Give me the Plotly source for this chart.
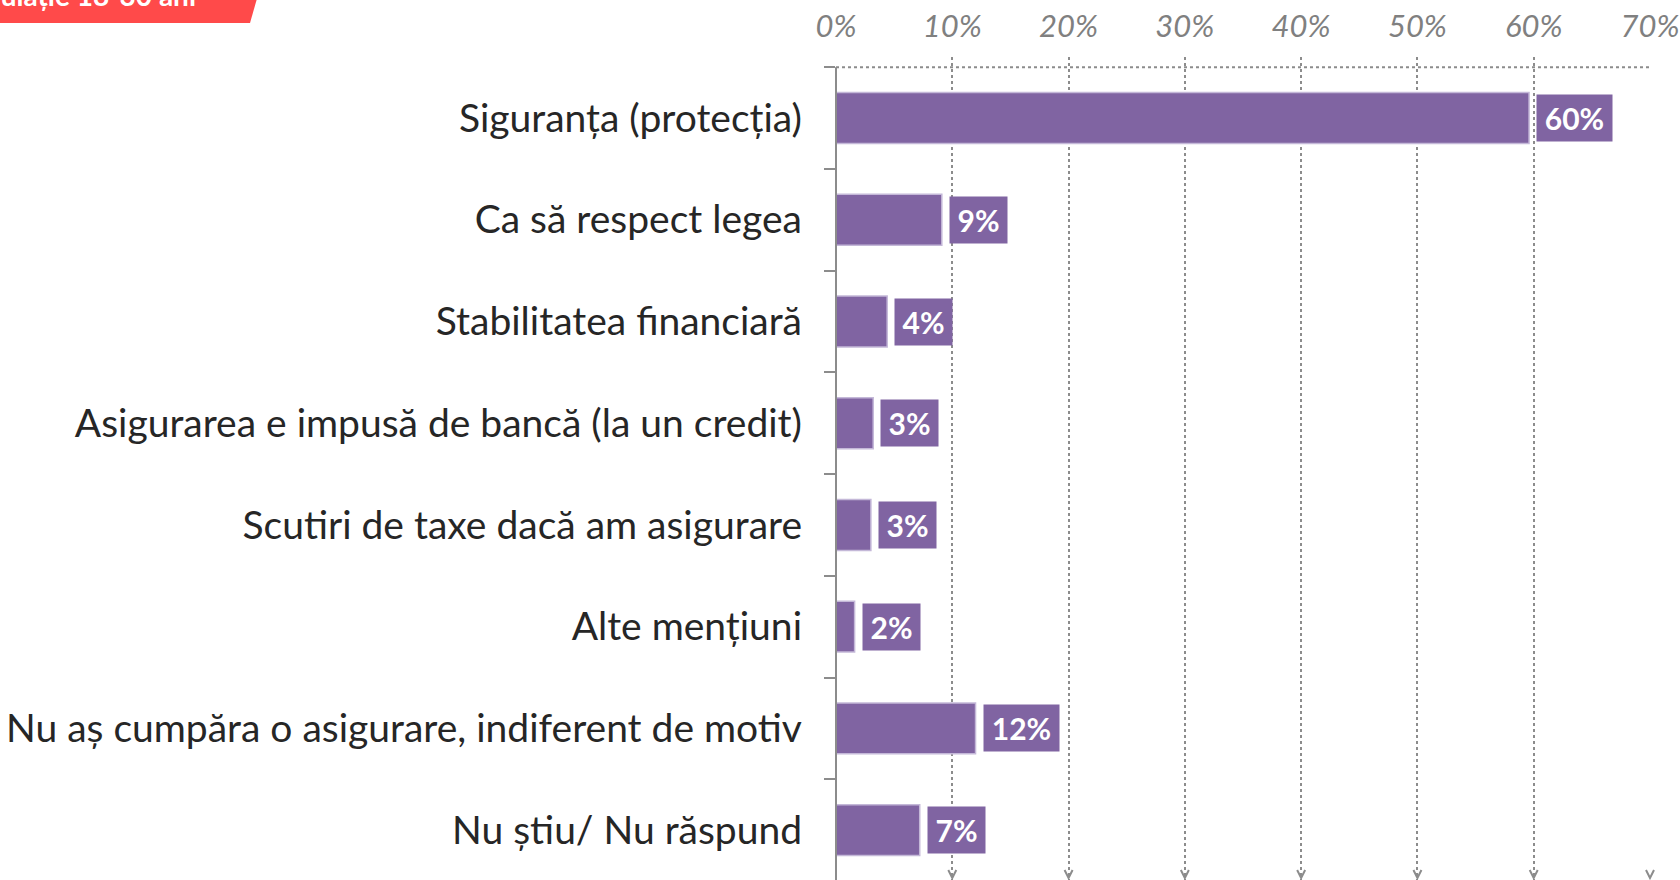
import plotly.graph_objects as go

# ---- data ----
categories = [
    "Siguranța (protecția)",
    "Ca să respect legea",
    "Stabilitatea financiară",
    "Asigurarea e impusă de bancă (la un credit)",
    "Scutiri de taxe dacă am asigurare",
    "Alte mențiuni",
    "Nu aș cumpăra o asigurare, indiferent de motiv",
    "Nu știu/ Nu răspund",
]
values = [59.6, 9.1, 4.4, 3.2, 3.0, 1.6, 12.0, 7.2]
x_ticks = [0, 10, 20, 30, 40, 50, 60, 70]
x_ticklabels = ["0%", "10%", "20%", "30%", "40%", "50%", "60%", "70%"]
banner_text = "Populație 18-30 ani"

# ---- style ----
W, H = 1680, 880
ML, MR, MT, MB = 836, 30, 57, 0
PURPLE = "#8064A2"
GRID = "#8c8c8c"
XMAX = x_ticks[-1]
PLOT_W = W - ML - MR
PLOT_H = H - MT - MB


def px_x(p):
    return (p - ML) / PLOT_W


def px_y(p):
    return (H - MB - p) / PLOT_H


fig = go.Figure()
fig.add_trace(go.Bar(
    y=categories,
    x=values,
    orientation="h",
    width=0.5,
    marker=dict(color=PURPLE, line=dict(color="#C4B8D8", width=1.5)),
    hoverinfo="skip",
))

annotations = []
for cat, v in zip(categories, values):
    lab = f"{round(v)}%"
    annotations.append(dict(
        x=v, y=cat, xref="x", yref="y",
        text=f"<b>{lab}</b>", showarrow=False,
        xanchor="left", yanchor="middle", xshift=7,
        bgcolor=PURPLE, borderpad=3,
        width=18 * len(lab) + 15, height=40, align="center", valign="middle",
        font=dict(family="Lato", size=30, color="white"),
    ))

# banner text (cut off at top edge)
annotations.append(dict(
    x=px_x(198), y=px_y(14), xref="paper", yref="paper",
    text=f"<b>{banner_text}</b>", showarrow=False,
    xanchor="right", yanchor="bottom",
    font=dict(family="Lato", size=28, color="white"),
))

shapes = []
# banner
shapes.append(dict(
    type="path", xref="paper", yref="paper", layer="below",
    path=(f"M {px_x(-5)},{px_y(-5)} L {px_x(258)},{px_y(-5)} "
          f"L {px_x(250)},{px_y(23)} L {px_x(-5)},{px_y(23)} Z"),
    fillcolor="#FF4A4A", line=dict(width=0),
))
# top dotted line
shapes.append(dict(type="line", xref="paper", yref="y", x0=0, x1=1, y0=-0.5, y1=-0.5,
                   line=dict(color=GRID, width=2, dash="dot"), layer="below"))
# left solid axis line
shapes.append(dict(type="line", xref="paper", yref="y", x0=0, x1=0, y0=-0.5, y1=len(categories),
                   line=dict(color=GRID, width=2)))
# arrow heads at bottom of gridlines
for t in x_ticks[1:]:
    xp = t / XMAX
    shapes.append(dict(
        type="path", xref="paper", yref="paper",
        path=(f"M {xp - 4 / PLOT_W},{px_y(870)} L {xp},{px_y(878)} "
              f"L {xp + 4 / PLOT_W},{px_y(870)}"),
        line=dict(color=GRID, width=2),
    ))

fig.update_layout(
    width=W, height=H,
    margin=dict(l=ML, r=MR, t=MT, b=MB, pad=0),
    paper_bgcolor="white", plot_bgcolor="white",
    showlegend=False,
    bargap=0.5,
    annotations=annotations,
    shapes=shapes,
    xaxis=dict(
        side="top", range=[0, XMAX], tickvals=x_ticks, ticktext=x_ticklabels,
        showgrid=True, griddash="dot", gridcolor=GRID, gridwidth=2,
        zeroline=False, showline=False, ticks="", automargin=False,
        ticklabelstandoff=13,
        tickfont=dict(family="Lato", size=31, color="#808080", style="italic"),
    ),
    yaxis=dict(
        type="category", categoryorder="array", categoryarray=categories,
        range=[len(categories) - 0.51, -0.6],
        showgrid=False, zeroline=False, showline=False,
        ticks="outside", tickson="boundaries", ticklen=11, tickwidth=2, tickcolor=GRID,
        ticklabelstandoff=33, automargin=False,
        tickfont=dict(family="Lato", size=39, color="#262626"),
    ),
)

fig.write_html(
    "out.html",
    config={"displayModeBar": False},
    post_script="document.body.style.margin='0';document.body.style.overflow='hidden';",
)
